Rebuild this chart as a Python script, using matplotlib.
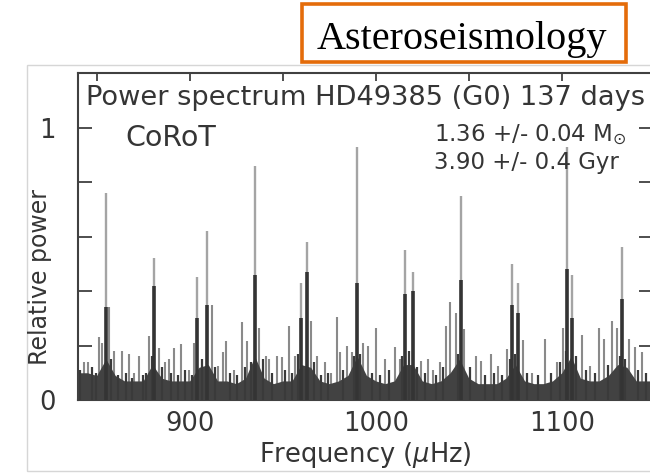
import matplotlib
matplotlib.use("Agg")
import matplotlib.pyplot as plt
from matplotlib.patches import Rectangle

plt.rcParams["font.family"] = ["DejaVu Sans"]
plt.rcParams["mathtext.fontset"] = "dejavusans"

W, H = 650, 476
INK = "#353535"

# mode peaks: frequency (uHz), peak height, dark core height
mode_freq = [855.2, 881.0, 904.2, 909.2, 935.0, 959.7, 963.2, 990.1, 1015.8,
             1020.0, 1045.7, 1073.2, 1076.6, 1103.0, 1105.6, 1132.4]
mode_peak = [0.76, 0.52, 0.45, 0.62, 0.86, 0.43, 0.58, 0.93, 0.55,
             0.47, 0.75, 0.50, 0.43, 0.93, 0.46, 0.56]
mode_core = [0.34, 0.42, 0.30, 0.35, 0.46, 0.30, 0.47, 0.43, 0.39,
             0.40, 0.44, 0.35, 0.32, 0.48, 0.30, 0.37]

# smaller spikes between the modes
spike_freq = [843.3, 845.6, 851.3, 853.0, 856.6, 859.3, 863.8, 867.3, 870.0, 872.7,
              878.0, 883.4, 886.5, 888.7, 891.6, 895.5, 899.4, 902.4, 911.9, 915.5,
              918.1, 919.4, 923.8, 927.9, 931.0, 937.5, 940.8, 942.5, 947.0, 949.7,
              953.6, 956.8, 965.0, 968.4, 972.5, 976.0, 979.1, 980.9, 984.4, 987.0,
              993.3, 996.0, 1000.4, 1004.9, 1010.2, 1012.9, 1024.5, 1028.1, 1030.7, 1034.3,
              1037.5, 1040.0, 1043.2, 1047.7, 1053.9, 1056.6, 1061.9, 1065.5, 1070.3, 1078.9,
              1084.2, 1091.0, 1097.6, 1100.8, 1110.6, 1115.4, 1119.9, 1122.6, 1127.0, 1129.7,
              1136.0, 1139.5, 1143.0]
spike_power = [0.14, 0.14, 0.23, 0.21, 0.34, 0.18, 0.18, 0.17, 0.10, 0.16,
               0.235, 0.19, 0.14, 0.15, 0.19, 0.205, 0.11, 0.21, 0.35, 0.125,
               0.175, 0.217, 0.11, 0.287, 0.217, 0.266, 0.16, 0.15, 0.16, 0.156,
               0.272, 0.16, 0.29, 0.16, 0.138, 0.10, 0.303, 0.175, 0.20, 0.175,
               0.21, 0.20, 0.266, 0.15, 0.193, 0.15, 0.144, 0.15, 0.11, 0.138,
               0.272, 0.358, 0.32, 0.26, 0.16, 0.144, 0.168, 0.125, 0.187, 0.22,
               0.10, 0.223, 0.138, 0.266, 0.238, 0.125, 0.266, 0.223, 0.29, 0.266,
               0.223, 0.193, 0.175]

# low grass inside the noise band
grass_freq = [841.0, 847.5, 849.5, 857.8, 861.5, 865.6, 869.0, 874.8, 876.5, 880.0,
              885.0, 890.2, 893.5, 897.6, 901.0, 906.5, 913.8, 921.5, 925.6, 929.5,
              933.0, 939.2, 944.5, 951.5, 955.2, 958.2, 966.8, 970.5, 974.2, 982.6,
              988.3, 991.8, 998.2, 1002.5, 1007.0, 1014.0, 1018.0, 1022.2, 1026.4, 1032.5,
              1036.0, 1044.0, 1050.5, 1058.5, 1063.8, 1068.0, 1072.0, 1075.0, 1081.5, 1087.0,
              1094.0, 1099.0, 1102.0, 1107.8, 1113.0, 1117.6, 1124.8, 1131.0, 1134.2, 1141.2,
              1145.5]
grass_power = [0.11, 0.12, 0.10, 0.15, 0.09, 0.10, 0.08, 0.09, 0.10, 0.16,
               0.12, 0.10, 0.09, 0.11, 0.09, 0.15, 0.12, 0.10, 0.09, 0.12,
               0.14, 0.15, 0.10, 0.11, 0.10, 0.17, 0.14, 0.09, 0.10, 0.11,
               0.16, 0.17, 0.10, 0.09, 0.11, 0.16, 0.18, 0.12, 0.10, 0.09,
               0.12, 0.17, 0.12, 0.09, 0.10, 0.09, 0.15, 0.17, 0.10, 0.09,
               0.10, 0.14, 0.18, 0.16, 0.11, 0.10, 0.13, 0.16, 0.15, 0.11,
               0.10]

# top of the dense noise band, every 5 uHz
band_freq = list(range(840, 1151, 5))
band_top = [0.10, 0.10, 0.09, 0.15, 0.09, 0.07, 0.07, 0.07, 0.13, 0.08,
            0.07, 0.07, 0.07, 0.12, 0.13, 0.07, 0.07, 0.06, 0.08, 0.16,
            0.08, 0.06, 0.07, 0.07, 0.13, 0.12, 0.07, 0.06, 0.07, 0.09,
            0.16, 0.09, 0.07, 0.06, 0.07, 0.13, 0.13, 0.07, 0.06, 0.07,
            0.10, 0.15, 0.08, 0.06, 0.06, 0.06, 0.08, 0.13, 0.07, 0.06,
            0.06, 0.07, 0.10, 0.16, 0.08, 0.07, 0.07, 0.09, 0.13, 0.12,
            0.07, 0.07, 0.07]

x_ticks = [850, 900, 950, 1000, 1050, 1100]
x_labels = ["", "900", "", "1000", "", "1100"]
y_ticks = [0, 0.2, 0.4, 0.6, 0.8, 1.0]
y_labels = ["0", "", "", "", "", "1"]


def fx(px):
    return px / W


def fy(py):
    return 1 - py / H


fig = plt.figure(figsize=(W / 100, H / 100), dpi=100)

# light grey frame around the panel
fig.add_artist(Rectangle((fx(27), fy(471)), 1, (471 - 65) / H, transform=fig.transFigure,
                         fill=False, ec="#d6d6d6", lw=1))

ax = fig.add_axes([fx(78), fy(400), (653 - 78) / W, (400 - 73) / H])
ax.vlines(mode_freq, 0, mode_peak, color="#a4a4a4", lw=1.7, zorder=1)
ax.vlines(spike_freq, 0, spike_power, color="#8a8a8a", lw=1.5, zorder=2)
ax.fill_between(band_freq, 0, band_top, color="#424242", lw=0, zorder=3)
ax.vlines(grass_freq, 0, grass_power, color="#3a3a3a", lw=1.6, zorder=3)
ax.vlines(mode_freq, 0, mode_core, color="#343434", lw=2.6, zorder=4)

ax.set_xlim(840, 1149)
ax.set_ylim(0, 1.2)
ax.set_xticks(x_ticks)
ax.set_xticklabels(x_labels)
ax.set_yticks(y_ticks)
ax.set_yticklabels(y_labels)
for s in ax.spines.values():
    s.set_color("#404040")
    s.set_linewidth(1.5)
ax.tick_params(axis="x", direction="in", length=6, width=1.3, top=True,
               colors="#404040", labelcolor=INK, labelsize=18.5, pad=8)
ax.tick_params(axis="y", direction="in", length=10, width=1.3, right=True,
               colors="#404040", labelcolor=INK, labelsize=18.5, pad=16)

fig.text(fx(86), fy(98), "Power spectrum HD49385 (G0) 137 days", fontsize=19.6,
         color=INK, ha="left", va="center")
fig.text(fx(125), fy(138), "CoRoT", fontsize=20.5, color=INK, ha="left", va="center")
fig.text(fx(434), fy(135), r"1.36 +/- 0.04 M$_{\odot}$", fontsize=16.5, color=INK,
         ha="left", va="center")
fig.text(fx(434), fy(162), "3.90 +/- 0.4 Gyr", fontsize=16.5, color=INK,
         ha="left", va="center")
fig.text(fx(365), fy(455), r"Frequency ($\mu$Hz)", fontsize=18.5, color=INK,
         ha="center", va="center")
fig.text(fx(40), fy(277), "Relative power", fontsize=17, color=INK, rotation=90,
         ha="center", va="center")

# orange title box
fig.add_artist(Rectangle((fx(301.5), fy(61.5)), (625.5 - 301.5) / W, (61.5 - 4.5) / H,
                         transform=fig.transFigure, fc="white", ec="#e46c0a", lw=2.6))
fig.text(fx(462), fy(40), "Asteroseismology", fontsize=29, family="Liberation Serif",
         color="black", ha="center", va="center")

fig.savefig("out.png", dpi=100)
